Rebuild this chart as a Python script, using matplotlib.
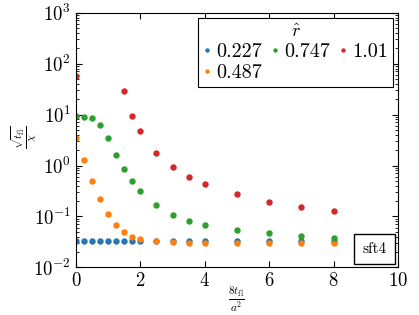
import matplotlib
matplotlib.use("Agg")
import matplotlib.pyplot as plt
import numpy as np
from matplotlib.offsetbox import AnchoredText

plt.rcParams["font.family"] = "serif"
plt.rcParams["font.serif"] = ["cmr10"]
plt.rcParams["mathtext.fontset"] = "cm"
plt.rcParams["axes.formatter.use_mathtext"] = True

# flow times
t = [0, 0.25, 0.5, 0.75, 1, 1.25, 1.5, 1.75, 2, 2.5, 3, 3.5, 4, 5, 6, 7, 8]

r227 = [0.033, 0.0325, 0.0325, 0.0325, 0.0325, 0.0325, 0.0325, 0.0325, 0.0325,
        0.0325, 0.0325, 0.0325, 0.0325, 0.0325, 0.0325, 0.0325, 0.0325]
r487 = [3.5, 1.27, 0.49, 0.22, 0.112, 0.067, 0.049, 0.040, 0.036,
        0.0324, 0.031, 0.030, 0.030, 0.030, 0.030, 0.030, 0.030]
r747 = [9.5, 8.9, 8.5, 6.3, 3.4, 1.62, 0.85, 0.49, 0.32,
        0.165, 0.109, 0.083, 0.068, 0.055, 0.047, 0.041, 0.038]
r101 = [56, np.nan, np.nan, np.nan, np.nan, np.nan, 29, 9.5, 4.7,
        1.78, 0.93, 0.59, 0.43, 0.27, 0.195, 0.156, 0.128]

series = [("0.227", r227, "tab:blue"), ("0.487", r487, "tab:orange"),
          ("0.747", r747, "tab:green"), ("1.01", r101, "tab:red")]

fig = plt.figure(figsize=(4.19, 3.15), dpi=100)
ax = fig.add_axes([0.181, 0.151, 0.769, 0.809])

for lab, y, c in series:
    ax.plot(t, y, "o", ms=3.6, color=c, label=lab, linestyle="none")

ax.set_yscale("log")
ax.set_xlim(0, 10)
ax.set_ylim(1e-2, 1e3)
ax.set_xticks([0, 2, 4, 6, 8, 10])
ax.tick_params(which="both", direction="in", top=True, right=True, labelsize=13.5)
ax.tick_params(which="major", length=4)
ax.tick_params(which="minor", length=2)

ax.set_xlabel(r"$\frac{8t_{\rm fl}}{a^2}$", fontsize=11.5)
ax.set_ylabel(r"$\frac{\sqrt{t_{\rm fl}}}{\chi}$", fontsize=11.5)
ax.xaxis.set_label_coords(0.5, -0.068)
ax.yaxis.set_label_coords(-0.115, 0.51)

leg = ax.legend(title=r"$\hat{r}$", ncol=3, loc="upper right", fontsize=14.5,
                title_fontsize=13, markerscale=0.6, handletextpad=0.25,
                columnspacing=0.45, handlelength=0.4, fancybox=False,
                edgecolor="black", framealpha=1, borderpad=0.25,
                labelspacing=0.15, borderaxespad=0.25)
leg.get_frame().set_linewidth(0.8)

at = AnchoredText("sft4", loc="lower right", prop=dict(size=11),
                  frameon=True, borderpad=0.3, pad=0.45)
at.patch.set_boxstyle("square,pad=0.1")
at.patch.set_edgecolor("black")
ax.add_artist(at)

fig.savefig("out.png", dpi=100)
